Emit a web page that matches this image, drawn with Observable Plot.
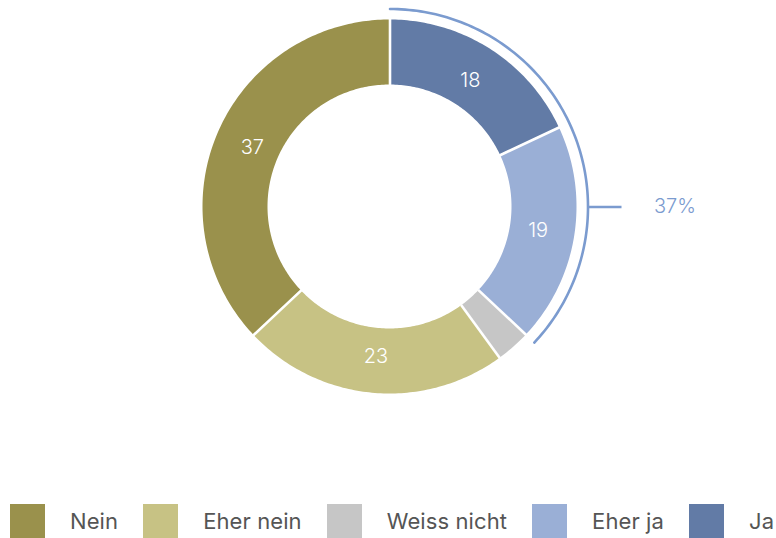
<!DOCTYPE html>
<html>
<head>
<meta charset="utf-8">
<script src="https://cdn.jsdelivr.net/npm/d3@7"></script>
<script src="https://cdn.jsdelivr.net/npm/@observablehq/plot@0.6"></script>
<style>
  html, body { margin: 0; padding: 0; background: #fff; overflow: hidden; width: 776px; height: 538px; }
  #chart svg { display: block; }
  .legend { display: flex; align-items: center; padding-left: 10px; white-space: nowrap; font-family: Inter, "Noto Sans", sans-serif; font-size: 22px; letter-spacing: 0.1px; color: #555; }
  .legend .sw { width: 35px; height: 34px; flex: none; margin-right: 25px; }
  .legend .lab { margin-right: 25px; flex: none; }
</style>
</head>
<body>
<div id="chart"></div>
<div class="legend" id="legend"></div>
<script>
// ---- data ----
const categories = ["Ja", "Eher ja", "Weiss nicht", "Eher nein", "Nein"];
const values = [18, 19, 3, 23, 37];
const colors = ["#627ba6", "#9aafd6", "#c6c6c6", "#c7c284", "#9a914c"];
const showLabel = [true, true, false, true, true];
const legendOrder = ["Nein", "Eher nein", "Weiss nicht", "Eher ja", "Ja"];
const annotationValue = 37;
const annotationLabel = "37%";

// ---- geometry (pixel-unit scales) ----
const W = 776, H = 504;
const cx = 389.5, cy = 206.5;
const R = 187, r0 = 122, rLab = 150, rAnn = 198, rTickEnd = 231.5, rText = 264;
const total = d3.sum(values);
const ang = v => v / total * 2 * Math.PI;
const px = (rad, a) => rad * Math.sin(a);
const py = (rad, a) => rad * Math.cos(a);

const cum = d3.cumsum(values);
const slices = categories.map((c, i) => ({cat: c, value: values[i], start: cum[i] - values[i], end: cum[i], label: showLabel[i]}));

const arcRows = [];
for (const s of slices) {
  const n = Math.max(2, Math.ceil(s.value * 4));
  for (let k = 0; k <= n; k++) {
    const a = ang(s.start + (s.end - s.start) * k / n);
    arcRows.push({cat: s.cat, x1: px(R, a), y1: py(R, a), x2: px(r0, a), y2: py(r0, a)});
  }
}
const seps = slices.map(s => ({a: ang(s.start)}));
const annRows = [];
{
  const n = 120;
  for (let k = 0; k <= n; k++) {
    const a = ang(annotationValue * k / n);
    annRows.push({x: px(rAnn, a), y: py(rAnn, a)});
  }
}
const tickAngle = Math.PI / 2;

const plot = Plot.plot({
  width: W, height: H,
  marginLeft: 0, marginRight: 0, marginTop: 0, marginBottom: 0,
  x: {domain: [-cx, W - cx], axis: null},
  y: {domain: [cy - H, cy], axis: null},
  color: {domain: categories, range: colors},
  style: {fontFamily: "Inter, 'Noto Sans', sans-serif", background: "#fff"},
  marks: [
    Plot.area(arcRows, {x1: "x1", y1: "y1", x2: "x2", y2: "y2", z: "cat", fill: "cat"}),
    Plot.link(seps, {x1: d => px(r0 - 1, d.a), y1: d => py(r0 - 1, d.a), x2: d => px(R + 1, d.a), y2: d => py(R + 1, d.a), stroke: "#fff", strokeWidth: 2.6}),
    Plot.text(slices.filter(s => s.label), {
      x: s => px(rLab, ang((s.start + s.end) / 2)),
      y: s => py(rLab, ang((s.start + s.end) / 2)),
      text: s => String(s.value), fill: "#fff", fontSize: 20, fontWeight: 300, letterSpacing: "-0.6px"
    }),
    Plot.line(annRows, {x: "x", y: "y", stroke: "#7b9bcf", strokeWidth: 2.6}),
    Plot.link([{a: tickAngle}], {x1: d => px(rAnn, d.a), y1: d => py(rAnn, d.a), x2: d => px(rTickEnd, d.a), y2: d => py(rTickEnd, d.a), stroke: "#7b9bcf", strokeWidth: 2.6}),
    Plot.text([{a: tickAngle, t: annotationLabel}], {x: d => px(rText, d.a), y: d => py(rText, d.a), text: "t", textAnchor: "start", fill: "#7b9bcf", fontSize: 20, fontWeight: 300, letterSpacing: "-0.6px"})
  ]
});
document.getElementById("chart").appendChild(plot);

const leg = document.getElementById("legend");
for (const c of legendOrder) {
  const sw = document.createElement("span");
  sw.className = "sw";
  sw.style.background = colors[categories.indexOf(c)];
  const lab = document.createElement("span");
  lab.className = "lab";
  lab.textContent = c;
  leg.appendChild(sw);
  leg.appendChild(lab);
}
</script>
</body>
</html>
